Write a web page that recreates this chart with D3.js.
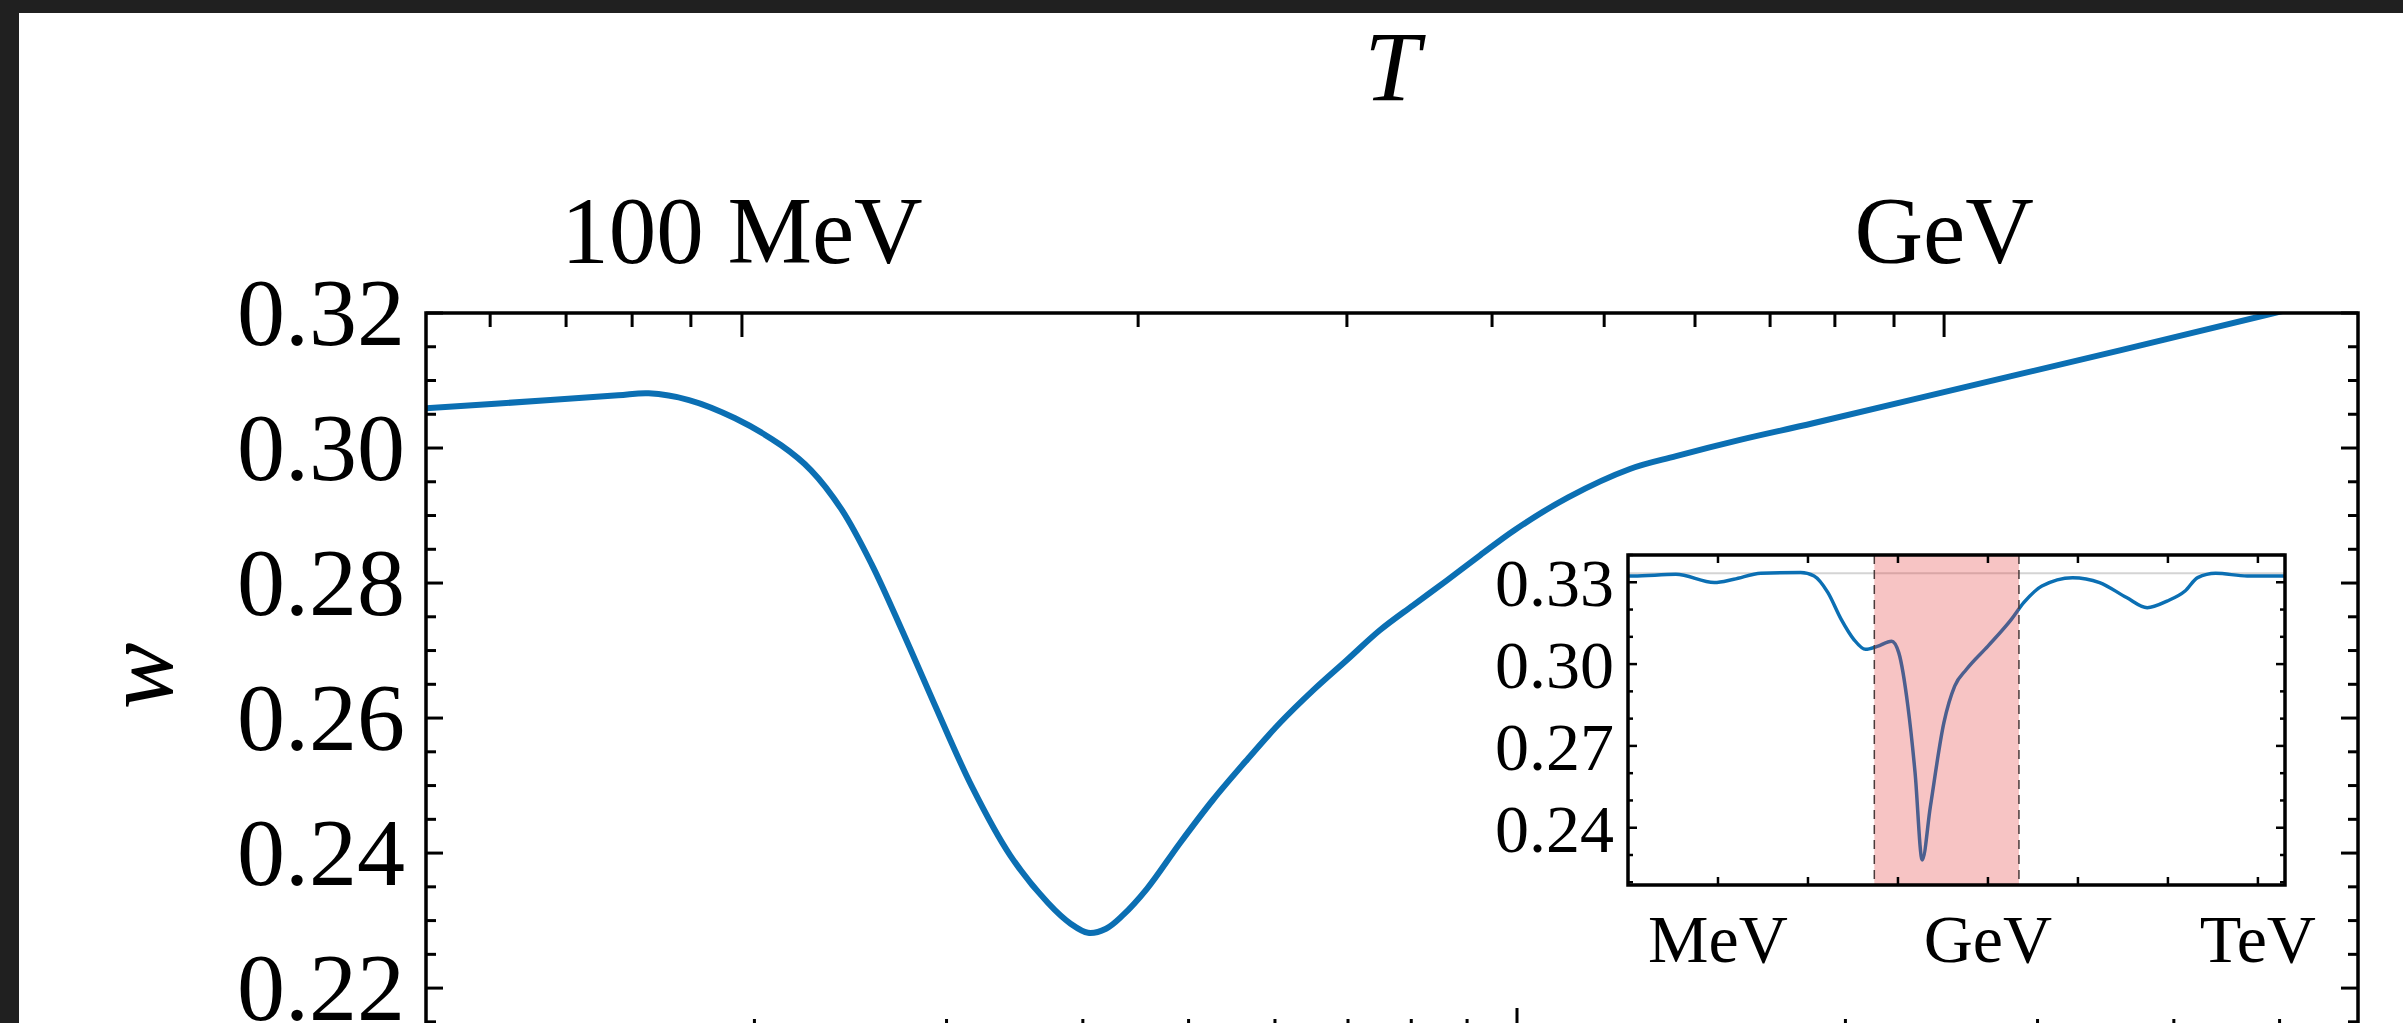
<!DOCTYPE html>
<html>
<head>
<meta charset="utf-8">
<script src="https://cdn.jsdelivr.net/npm/d3@7"></script>
<style>
  html, body { margin: 0; padding: 0; background: #202020; overflow: hidden; }
  svg { display: block; }
</style>
</head>
<body>
<script>
// main curve: bottom-axis variable (log) and equation of state w
const mainX = [1.0, 1.3, 1.5, 1.6, 1.742, 1.92, 2.116, 2.254, 2.406, 2.563, 2.736, 2.922,
  3.166, 3.43, 3.717, 3.901, 4.044, 4.2, 4.353, 4.579, 4.911, 5.265, 5.655, 6.065, 6.502,
  6.984, 7.486, 8.03, 8.626, 9.25, 9.96, 11.14, 12.69, 13.99, 16.01, 18.72, 25.85, 35.78,
  48.59, 59];
const mainW = [0.3059, 0.3071, 0.3078, 0.3081, 0.3071, 0.3044, 0.3004, 0.2967, 0.2908, 0.2827,
  0.2727, 0.2622, 0.2498, 0.2397, 0.2326, 0.2295, 0.2282, 0.2288, 0.2308, 0.2347, 0.2415,
  0.2479, 0.2538, 0.2593, 0.2641, 0.2686, 0.273, 0.2767, 0.2804, 0.2841, 0.2879, 0.2927,
  0.2969, 0.2988, 0.3012, 0.3037, 0.3091, 0.3145, 0.3197, 0.323];

// top axis: temperature ticks (MeV) and where they sit on the bottom variable
const topTickT = [60, 70, 80, 90, 100, 200, 300, 400, 500, 600, 700, 800, 900, 1000];
const topTickX = [1.145, 1.344, 1.545, 1.749, 1.948, 4.495, 6.984, 9.487, 12.02, 14.56,
  17.06, 19.56, 22.16, 24.63];
const topLabels = [{ t: 100, text: '100 MeV' }, { t: 1000, text: 'GeV' }];

// bottom axis ticks (labels are cut off in the picture)
const bottomTicks = [2, 3, 4, 5, 6, 7, 8, 9, 10, 20, 30, 40, 50];
const bottomMajor = [10];

// y ticks
const yMajor = [0.22, 0.24, 0.26, 0.28, 0.30, 0.32];
const yMinor = d3.range(0.215, 0.3201, 0.005);

// inset: T in GeV, w
const insetT = [1e-4, 1.15e-4, 3.4e-4, 9.1e-4, 1.5e-3, 3.0e-3, 8.3e-3, 0.0117, 0.0166, 0.0234,
  0.0324, 0.0437, 0.0589, 0.0851, 0.102, 0.129, 0.155, 0.186, 0.229, 0.324, 0.427, 0.575,
  1.0, 1.82, 2.51, 3.98, 8.71, 17.4, 34.7, 58.9, 97.7, 155, 214, 339, 759, 1905, 2000];
const insetW = [0.3323, 0.3323, 0.3329, 0.3299, 0.3311, 0.3333, 0.3336, 0.3323, 0.3263, 0.3164,
  0.309, 0.3054, 0.3065, 0.3084, 0.3042, 0.2845, 0.2601, 0.2282, 0.2477, 0.2785, 0.2919,
  0.298, 0.3066, 0.3164, 0.3226, 0.3286, 0.3317, 0.3299, 0.3244, 0.3207, 0.3231, 0.3268,
  0.3317, 0.3333, 0.3323, 0.3323, 0.3323];
const insetTickT = [1e-3, 1e-2, 1e-1, 1, 10, 100, 1000];
const insetLabels = [{ t: 1e-3, text: 'MeV' }, { t: 1, text: 'GeV' }, { t: 1e3, text: 'TeV' }];
const insetYMajor = [0.24, 0.27, 0.30, 0.33];
const insetYMinor = d3.range(0.22, 0.3401, 0.01);
const band = [0.0546, 2.21]; // T range of the main plot, GeV
const wRadiation = 1 / 3;

const svgWidth = 2403;
const svgHeight = 1023;
const font = "'Liberation Serif', 'DejaVu Serif', serif";
const blue = '#0b6fb3';

// main plot box
const plotLeft = 426;
const plotRight = 2358;
const plotTop = 313;
const plotBottom = 1034;

const xScale = d3.scaleLog().domain([1, 59]).range([plotLeft, plotRight]);
const yScale = d3.scaleLinear().domain([0.2132, 0.32]).range([plotBottom, plotTop]);

const isMajor = (list, d) => list.some((m) => Math.abs(m - d) < 1e-6);

const svg = d3
  .select('body')
  .append('svg')
  .attr('width', svgWidth)
  .attr('height', svgHeight)
  .attr('viewBox', [0, 0, svgWidth, svgHeight]);

svg.append('rect').attr('width', svgWidth).attr('height', svgHeight).attr('fill', '#202020');
svg
  .append('rect')
  .attr('x', 19)
  .attr('y', 13)
  .attr('width', svgWidth - 19)
  .attr('height', svgHeight - 13)
  .attr('fill', 'white');

svg
  .append('clipPath')
  .attr('id', 'main-clip')
  .append('rect')
  .attr('x', plotLeft)
  .attr('y', plotTop)
  .attr('width', plotRight - plotLeft)
  .attr('height', plotBottom - plotTop);

// main curve
const line = d3
  .line()
  .x((d) => xScale(d[0]))
  .y((d) => yScale(d[1]))
  .curve(d3.curveCatmullRom.alpha(0.5));

svg
  .append('path')
  .datum(d3.zip(mainX, mainW))
  .attr('clip-path', 'url(#main-clip)')
  .attr('fill', 'none')
  .attr('stroke', blue)
  .attr('stroke-width', 6)
  .attr('stroke-linejoin', 'round')
  .attr('d', line);

// ticks
const ticks = svg.append('g').attr('stroke', 'black').attr('stroke-width', 3);

ticks
  .append('g')
  .selectAll('line')
  .data(topTickX)
  .join('line')
  .attr('x1', (d) => xScale(d))
  .attr('x2', (d) => xScale(d))
  .attr('y1', plotTop)
  .attr('y2', (d, i) => plotTop + (topLabels.some((l) => l.t === topTickT[i]) ? 24 : 14));

ticks
  .append('g')
  .selectAll('line')
  .data(bottomTicks)
  .join('line')
  .attr('x1', (d) => xScale(d))
  .attr('x2', (d) => xScale(d))
  .attr('y1', plotBottom)
  .attr('y2', (d) => plotBottom - (bottomMajor.includes(d) ? 26 : 15));

[plotLeft, plotRight].forEach((x0, side) => {
  const dir = side === 0 ? 1 : -1;
  ticks
    .append('g')
    .selectAll('line')
    .data(yMinor)
    .join('line')
    .attr('x1', x0)
    .attr('x2', (d) => x0 + dir * (isMajor(yMajor, d) ? 17 : 10))
    .attr('y1', (d) => yScale(d))
    .attr('y2', (d) => yScale(d));
});

// frame
svg
  .append('rect')
  .attr('x', plotLeft)
  .attr('y', plotTop)
  .attr('width', plotRight - plotLeft)
  .attr('height', plotBottom - plotTop)
  .attr('fill', 'none')
  .attr('stroke', 'black')
  .attr('stroke-width', 3.5);

// y labels
svg
  .append('g')
  .attr('font-family', font)
  .attr('font-size', 96)
  .attr('text-anchor', 'end')
  .selectAll('text')
  .data(yMajor)
  .join('text')
  .attr('x', plotLeft - 21)
  .attr('y', (d) => yScale(d) + 32)
  .text((d) => d.toFixed(2));

// top labels
svg
  .append('g')
  .attr('font-family', font)
  .attr('font-size', 95)
  .attr('text-anchor', 'middle')
  .selectAll('text')
  .data(topLabels)
  .join('text')
  .attr('x', (d) => xScale(topTickX[topTickT.indexOf(d.t)]))
  .attr('y', 263)
  .text((d) => d.text);

svg
  .append('text')
  .attr('x', (plotLeft + plotRight) / 2)
  .attr('y', 100)
  .attr('font-family', font)
  .attr('font-style', 'italic')
  .attr('font-size', 100)
  .attr('text-anchor', 'middle')
  .text('T');

svg
  .append('text')
  .attr('transform', 'translate(172,676) rotate(-90)')
  .attr('font-family', font)
  .attr('font-style', 'italic')
  .attr('font-size', 100)
  .attr('text-anchor', 'middle')
  .text('w');

// inset
const iLeft = 1628;
const iRight = 2285;
const iTop = 555;
const iBottom = 885;
const ix = d3.scaleLog().domain([1e-4, 2e3]).range([iLeft, iRight]);
const iy = d3.scaleLinear().domain([0.219, 0.34]).range([iBottom, iTop]);

const inset = svg.append('g');
inset
  .append('rect')
  .attr('x', iLeft)
  .attr('y', iTop)
  .attr('width', iRight - iLeft)
  .attr('height', iBottom - iTop)
  .attr('fill', 'white');

inset
  .append('line')
  .attr('x1', iLeft)
  .attr('x2', iRight)
  .attr('y1', iy(wRadiation))
  .attr('y2', iy(wRadiation))
  .attr('stroke', '#d4d4d4')
  .attr('stroke-width', 2);

inset
  .append('path')
  .datum(d3.zip(insetT, insetW))
  .attr('fill', 'none')
  .attr('stroke', blue)
  .attr('stroke-width', 3.5)
  .attr('stroke-linejoin', 'round')
  .attr(
    'd',
    d3
      .line()
      .x((d) => ix(d[0]))
      .y((d) => iy(d[1]))
      .curve(d3.curveMonotoneX)
  );

inset
  .append('rect')
  .attr('x', ix(band[0]))
  .attr('y', iTop)
  .attr('width', ix(band[1]) - ix(band[0]))
  .attr('height', iBottom - iTop)
  .attr('fill', 'rgb(230,60,60)')
  .attr('fill-opacity', 0.3);

inset
  .append('g')
  .selectAll('line')
  .data(band)
  .join('line')
  .attr('x1', (d) => ix(d))
  .attr('x2', (d) => ix(d))
  .attr('y1', iTop)
  .attr('y2', iBottom)
  .attr('stroke', '#4a3a3a')
  .attr('stroke-width', 1.5)
  .attr('stroke-dasharray', '9 6');

const iTicks = inset.append('g').attr('stroke', 'black').attr('stroke-width', 2.5);
[iTop, iBottom].forEach((y0, side) => {
  const dir = side === 0 ? 1 : -1;
  iTicks
    .append('g')
    .selectAll('line')
    .data(insetTickT)
    .join('line')
    .attr('x1', (d) => ix(d))
    .attr('x2', (d) => ix(d))
    .attr('y1', y0)
    .attr('y2', y0 + dir * 8);
});
[iLeft, iRight].forEach((x0, side) => {
  const dir = side === 0 ? 1 : -1;
  iTicks
    .append('g')
    .selectAll('line')
    .data(insetYMinor)
    .join('line')
    .attr('x1', x0)
    .attr('x2', (d) => x0 + dir * (isMajor(insetYMajor, d) ? 9 : 5))
    .attr('y1', (d) => iy(d))
    .attr('y2', (d) => iy(d));
});

inset
  .append('rect')
  .attr('x', iLeft)
  .attr('y', iTop)
  .attr('width', iRight - iLeft)
  .attr('height', iBottom - iTop)
  .attr('fill', 'none')
  .attr('stroke', 'black')
  .attr('stroke-width', 3.5);

inset
  .append('g')
  .attr('font-family', font)
  .attr('font-size', 68)
  .attr('text-anchor', 'end')
  .selectAll('text')
  .data(insetYMajor)
  .join('text')
  .attr('x', iLeft - 14)
  .attr('y', (d) => iy(d) + 24)
  .text((d) => d.toFixed(2));

inset
  .append('g')
  .attr('font-family', font)
  .attr('font-size', 68)
  .attr('text-anchor', 'middle')
  .selectAll('text')
  .data(insetLabels)
  .join('text')
  .attr('x', (d) => ix(d.t))
  .attr('y', 962)
  .text((d) => d.text);
</script>
</body>
</html>
